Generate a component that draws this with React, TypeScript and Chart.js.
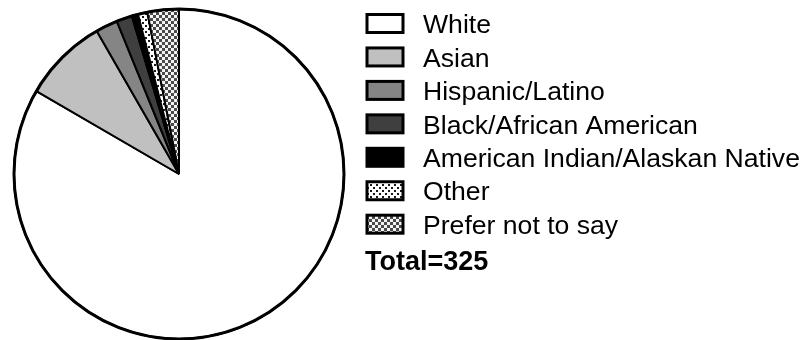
import React, { useEffect, useRef } from "react";
import { Chart, registerables } from "chart.js";

Chart.register(...registerables);

const categories = [
  "White",
  "Asian",
  "Hispanic/Latino",
  "Black/African American",
  "American Indian/Alaskan Native",
  "Other",
  "Prefer not to say",
];
const counts = [271, 27, 7, 5, 2, 3, 10];
const totalLabel = "Total=325";

function makeDots(): CanvasPattern | string {
  const c = document.createElement("canvas");
  c.width = 6;
  c.height = 6;
  const g = c.getContext("2d");
  if (!g) return "#fff";
  g.fillStyle = "#ffffff";
  g.fillRect(0, 0, 6, 6);
  g.fillStyle = "#1a1a1a";
  g.fillRect(1, 1, 2, 2);
  g.fillRect(4, 4, 2, 2);
  return g.createPattern(c, "repeat") || "#fff";
}

function makeChecker(): CanvasPattern | string {
  const c = document.createElement("canvas");
  c.width = 6;
  c.height = 6;
  const g = c.getContext("2d");
  if (!g) return "#888";
  g.fillStyle = "#f4f4f4";
  g.fillRect(0, 0, 6, 6);
  g.fillStyle = "#4a4a4a";
  g.fillRect(0, 0, 3, 3);
  g.fillRect(3, 3, 3, 3);
  return g.createPattern(c, "repeat") || "#888";
}

export default function App() {
  const ref = useRef<HTMLCanvasElement | null>(null);

  useEffect(() => {
    if (!ref.current) return;
    const fills = [
      "#ffffff",
      "#c0c0c0",
      "#858585",
      "#3f3f3f",
      "#000000",
      makeDots(),
      makeChecker(),
    ];

    const outlinePlugin = {
      id: "outline",
      afterDatasetsDraw(chart: any) {
        const meta = chart.getDatasetMeta(0);
        const arc = meta.data[0];
        if (!arc) return;
        const ctx = chart.ctx;
        ctx.save();
        ctx.beginPath();
        ctx.arc(arc.x, arc.y, arc.outerRadius, 0, Math.PI * 2);
        ctx.lineWidth = 3;
        ctx.strokeStyle = "#000";
        ctx.stroke();
        ctx.restore();
      },
    };

    const legendPlugin = {
      id: "customLegend",
      afterDraw(chart: any) {
        const ctx = chart.ctx;
        const bg = chart.data.datasets[0].backgroundColor;
        const labels = chart.data.labels as string[];
        const boxX = 367;
        const boxW = 36;
        const boxH = 18;
        const textX = 423;
        const y0 = 23.5;
        const step = 33.45;
        ctx.save();
        labels.forEach((lab: string, i: number) => {
          const cy = y0 + i * step;
          ctx.fillStyle = bg[i];
          ctx.fillRect(boxX, cy - boxH / 2, boxW, boxH);
          ctx.lineWidth = 3;
          ctx.strokeStyle = "#000";
          ctx.strokeRect(boxX, cy - boxH / 2, boxW, boxH);
          ctx.fillStyle = "#000";
          ctx.font = "26.6px 'Liberation Sans', Arial, sans-serif";
          ctx.textBaseline = "alphabetic";
          ctx.textAlign = "left";
          ctx.fillText(lab, textX, cy + 9.7);
        });
        ctx.font = "bold 27px 'Liberation Sans', Arial, sans-serif";
        ctx.fillText(totalLabel, 365, 270);
        ctx.restore();
      },
    };

    const chart = new Chart(ref.current, {
      type: "pie",
      data: {
        labels: categories,
        datasets: [
          {
            data: counts,
            backgroundColor: fills as any,
            borderColor: "#000000",
            borderWidth: 2,
          },
        ],
      },
      options: {
        responsive: false,
        animation: false,
        layout: { padding: { left: 13, top: 8, right: 459, bottom: 0 } },
        plugins: {
          legend: { display: false },
          tooltip: { enabled: false },
          title: { display: false },
        },
      },
      plugins: [outlinePlugin, legendPlugin],
    });
    return () => chart.destroy();
  }, []);

  return (
    <div style={{ position: "absolute", left: 0, top: 0, width: 804, height: 340, background: "#fff" }}>
      <canvas ref={ref} width={804} height={340} style={{ display: "block" }} />
    </div>
  );
}
